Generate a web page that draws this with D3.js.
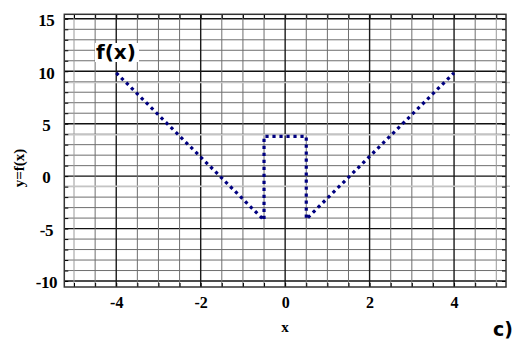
<!DOCTYPE html>
<html>
<head>
<meta charset="utf-8">
<script src="https://cdn.jsdelivr.net/npm/d3@7"></script>
<style>
  body { margin: 0; background: #fff; }
  svg { display: block; }
</style>
</head>
<body>
<div id="container"></div>
<script>
const width = 515;
const height = 340;

// curve
const xValues = [-4, -0.5, -0.5, 0.5, 0.5, 4];
const yValues = [9.85, -4.2, 3.8, 3.8, -4.1, 9.85];

// tick labels
const xTickLabels = [-4, -2, 0, 2, 4];
const yTickLabels = [-10, -5, 0, 5, 10, 15];

// faint grey streaks across the scan
const streakValues = [8.93, 3.95, -0.97];

const xScale = d3.scaleLinear()
  .domain([-5.23, 5.23])
  .range([64.3, 506]);

const yScale = d3.scaleLinear()
  .domain([-10.57, 15.43])
  .range([287, 14.3]);

const svg = d3.select("#container")
  .append("svg")
  .attr("width", width)
  .attr("height", height);

const x0 = xScale.range()[0], x1 = xScale.range()[1];
const y0 = yScale.range()[0], y1 = yScale.range()[1];

// grid
const vLines = d3.range(-5, 5.01, 0.5);
const hLines = d3.range(-10, 15.01, 1);

svg.append("g")
  .selectAll("line")
  .data(hLines)
  .join("line")
  .attr("x1", x0).attr("x2", x1)
  .attr("y1", d => yScale(d)).attr("y2", d => yScale(d))
  .attr("stroke", d => d % 5 === 0 ? "#111" : "#6e6e6e")
  .attr("stroke-width", d => d % 5 === 0 ? 1.4 : 1);

svg.append("g")
  .selectAll("line")
  .data(vLines)
  .join("line")
  .attr("x1", d => xScale(d)).attr("x2", d => xScale(d))
  .attr("y1", y0).attr("y2", y1)
  .attr("stroke", d => d % 2 === 0 ? "#1a1a1a" : (Math.abs(d) === 5 ? "#9a9a9a" : "#6e6e6e"))
  .attr("stroke-width", d => d % 2 === 0 ? 1.4 : 1);

svg.append("g")
  .selectAll("line")
  .data(streakValues)
  .join("line")
  .attr("x1", x0).attr("x2", x1 + 4)
  .attr("y1", d => yScale(d)).attr("y2", d => yScale(d))
  .attr("stroke", "#c4c4c4")
  .attr("stroke-width", 1.6);

// inward tick marks on all four sides
svg.append("g")
  .attr("transform", `translate(0,${y0})`)
  .call(d3.axisTop(xScale).tickValues(vLines).tickSize(4).tickFormat(""))
  .call(g => g.select(".domain").remove());
svg.append("g")
  .attr("transform", `translate(0,${y1})`)
  .call(d3.axisBottom(xScale).tickValues(vLines).tickSize(4).tickFormat(""))
  .call(g => g.select(".domain").remove());
svg.append("g")
  .attr("transform", `translate(${x0},0)`)
  .call(d3.axisRight(yScale).tickValues(hLines).tickSize(4).tickFormat(""))
  .call(g => g.select(".domain").remove());
svg.append("g")
  .attr("transform", `translate(${x1},0)`)
  .call(d3.axisLeft(yScale).tickValues(hLines).tickSize(4).tickFormat(""))
  .call(g => g.select(".domain").remove());

// frame
svg.append("rect")
  .attr("x", x0).attr("y", y1)
  .attr("width", x1 - x0).attr("height", y0 - y1)
  .attr("fill", "none")
  .attr("stroke", "#333")
  .attr("stroke-width", 1.5);

// tick labels (plain hyphen minus like the original)
svg.append("g")
  .attr("transform", `translate(0,${y0})`)
  .call(d3.axisBottom(xScale).tickValues(xTickLabels).tickSize(0).tickFormat(d => String(d)))
  .call(g => g.select(".domain").remove())
  .selectAll("text")
  .attr("y", 21)
  .attr("dy", 0)
  .style("font-family", "'Liberation Serif', 'Times New Roman', serif")
  .style("font-weight", "bold")
  .style("font-size", "16px")
  .attr("fill", "#000");

svg.append("g")
  .attr("transform", `translate(${x0},0)`)
  .call(d3.axisLeft(yScale).tickValues(yTickLabels).tickSize(0).tickFormat(d => String(d)))
  .call(g => g.select(".domain").remove())
  .selectAll("text")
  .attr("x", -18)
  .attr("dy", "0.4em")
  .attr("text-anchor", "middle")
  .style("font-family", "'Liberation Serif', 'Times New Roman', serif")
  .style("font-weight", "bold")
  .style("font-size", "17px")
  .style("letter-spacing", "-0.5px")
  .attr("fill", "#000");

// the dotted curve
const points = xValues.map((d, i) => [d, yValues[i]]);
const line = d3.line()
  .x(d => xScale(d[0]))
  .y(d => yScale(d[1]));

svg.append("path")
  .datum(points)
  .attr("d", line)
  .attr("fill", "none")
  .attr("stroke", "#000080")
  .attr("stroke-width", 3.2)
  .attr("stroke-dasharray", "3.2,3.8");

// f(x) tag with white box
const tag = svg.append("g");
tag.append("rect")
  .attr("x", 95).attr("y", 43)
  .attr("width", 44).attr("height", 19)
  .attr("fill", "#fff");
tag.append("text")
  .attr("x", 96).attr("y", 59)
  .style("font-family", "'DejaVu Sans', Verdana, sans-serif")
  .style("font-weight", "bold")
  .style("font-size", "20px")
  .text("f(x)");

// axis titles
svg.append("text")
  .attr("x", 285).attr("y", 332)
  .attr("text-anchor", "middle")
  .style("font-family", "'Liberation Serif', 'Times New Roman', serif")
  .style("font-weight", "bold")
  .style("font-size", "15px")
  .text("x");

svg.append("text")
  .attr("transform", "translate(24,168) rotate(-90)")
  .attr("text-anchor", "middle")
  .style("font-family", "'Liberation Serif', 'Times New Roman', serif")
  .style("font-weight", "bold")
  .style("font-size", "15px")
  .text("y=f(x)");

svg.append("text")
  .attr("x", 493).attr("y", 336)
  .style("font-family", "'DejaVu Sans', Verdana, sans-serif")
  .style("font-weight", "bold")
  .style("font-size", "19px")
  .text("c)");
</script>
</body>
</html>
